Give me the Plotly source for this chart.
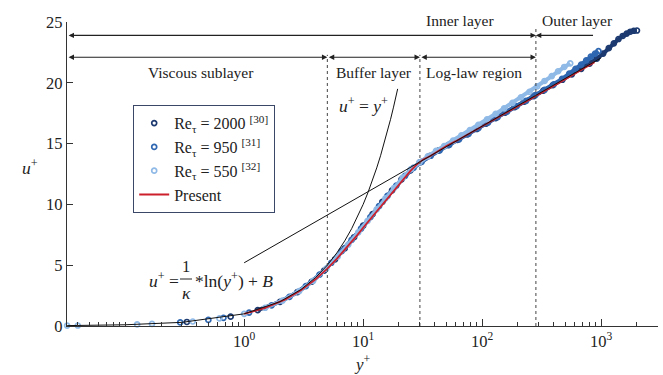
import math
import plotly.graph_objects as go

# ---------------- data ----------------
yp_2000 = [0.33, 0.77, 1.3, 2.0, 2.8, 3.7, 4.7, 5.8, 7.0, 8.4,
           10, 12, 14.5, 17.5, 21, 25, 30, 36, 43, 52,
           62, 75, 90, 108, 130, 156, 188, 226, 272, 327,
           393, 472, 567, 680, 800, 920, 1040, 1160, 1280, 1400,
           1520, 1640, 1760, 1880, 2000]
up_2000 = [0.33, 0.77, 1.3, 1.99, 2.78, 3.64, 4.55, 5.47, 6.38, 7.3,
           8.25, 9.2, 10.2, 11.15, 12.05, 12.8, 13.45, 13.98, 14.42, 14.88,
           15.3, 15.76, 16.2, 16.64, 17.1, 17.55, 18.0, 18.45, 18.9, 19.35,
           19.8, 20.25, 20.7, 21.15, 21.58, 21.98, 22.4, 22.85, 23.25, 23.6,
           23.85, 24.05, 24.2, 24.28, 24.3]

yp_950 = [0.29, 0.5, 0.67, 1.1, 1.7, 2.4, 3.3, 4.3, 5.4, 6.6,
          8.0, 9.6, 11.5, 13.6, 16, 19, 22.5, 26.5, 31, 37,
          44, 53, 64, 77, 93, 112, 135, 162, 195, 234,
          280, 335, 400, 470, 540, 610, 680, 750, 820, 890,
          950]
up_950 = [0.29, 0.5, 0.67, 1.1, 1.7, 2.39, 3.28, 4.22, 5.2, 6.15,
          7.08, 8.0, 8.95, 9.85, 10.7, 11.55, 12.35, 13.0, 13.5, 14.0,
          14.45, 14.9, 15.35, 15.8, 16.27, 16.72, 17.18, 17.62, 18.08, 18.52,
          18.98, 19.42, 19.88, 20.32, 20.75, 21.15, 21.5, 21.85, 22.15, 22.4,
          22.6]

yp_550 = [0.0325, 0.04, 0.126, 0.168, 0.37, 0.62, 1.0, 1.5, 2.1, 2.9,
          3.8, 4.9, 6.1, 7.5, 9.1, 10.9, 13, 15.4, 18.2, 21.5,
          25.3, 29.7, 35, 41, 48, 57, 67, 79, 93, 110,
          130, 153, 180, 212, 250, 290, 335, 385, 435, 490,
          550]
up_550 = [0.0325, 0.04, 0.126, 0.168, 0.37, 0.62, 1.0, 1.5, 2.09, 2.87,
          3.72, 4.72, 5.7, 6.7, 7.7, 8.65, 9.6, 10.5, 11.35, 12.2,
          12.9, 13.45, 13.95, 14.4, 14.8, 15.25, 15.68, 16.1, 16.55, 17.0,
          17.45, 17.9, 18.35, 18.8, 19.25, 19.7, 20.15, 20.55, 20.95, 21.3,
          21.6]

yp_present = [1.0, 1.5, 2.2, 3.0, 4.0, 5.0, 6.0, 7.0, 8.0, 9.0,
              10, 11.5, 13, 15, 17, 19.5, 22, 25, 28, 32,
              37, 43, 50, 60, 75, 95, 120, 150, 190, 240,
              300, 380, 480, 600, 720, 880]
up_present = [1.0, 1.49, 2.17, 2.93, 3.85, 4.72, 5.52, 6.25, 6.92, 7.52,
              8.08, 8.8, 9.45, 10.2, 10.85, 11.55, 12.15, 12.75, 13.25, 13.7,
              14.0, 14.4, 14.8, 15.2, 15.75, 16.3, 16.85, 17.4, 17.95, 18.5,
              19.05, 19.6, 20.2, 20.75, 21.2, 21.7]

# viscous sublayer relation u+ = y+
yp_visc = [0.0325, 0.1, 0.3, 1, 2, 3, 4, 5, 6, 7, 8, 9, 10, 11, 12,
           13, 14, 15, 16, 17, 18, 19.5]
up_visc = [0.0325, 0.1, 0.3, 1, 2, 3, 4, 5, 6, 7, 8, 9, 10, 11, 12,
           13, 14, 15, 16, 17, 18, 19.5]

# log law u+ = (1/kappa) ln(y+) + B  (endpoints)
yp_log = [1.0, 1000]
up_log = [5.2, 22.05]

# region boundaries (y+)
x_left = 0.0325
bounds = [5, 30, 283]
outer_end = 880

series_names = ["Re<sub>τ</sub> = 2000 <sup>[30]</sup>",
                "Re<sub>τ</sub> = 950 <sup>[31]</sup>",
                "Re<sub>τ</sub> = 550 <sup>[32]</sup>",
                "Present"]

xtick_vals = [1, 10, 100, 1000]
xtick_text = ["10<sup>0</sup>", "10<sup>1</sup>", "10<sup>2</sup>", "10<sup>3</sup>"]
ytick_vals = [0, 5, 10, 15, 20, 25]

# ---------------- layout constants ----------------
W, H = 663, 375
L, R, T, B = 67, 5, 22, 49
PW, PH = W - L - R, H - T - B
FONT = "'Liberation Serif', 'Times New Roman', Times, serif"
INK = "#222222"

DARK = "#1d3a70"
MED = "#2f67b1"
LIGHT = "#8fb9e6"
RED = "#cc1f2b"


def px(x):
    return (x - L) / PW


def py(y):
    return (H - B - y) / PH


fig = go.Figure()


def dns(x, y, color, name, rank, line_from):
    fig.add_trace(go.Scatter(x=x[line_from:], y=y[line_from:], mode="lines",
                             line=dict(color=color, width=4),
                             showlegend=False, hoverinfo="skip"))
    fig.add_trace(go.Scatter(x=x, y=y, mode="markers", name=name, legendrank=rank,
                             marker=dict(symbol="circle-open", size=5, color=color,
                                         line=dict(width=1.7, color=color)),
                             cliponaxis=False))


dns(yp_2000, up_2000, DARK, series_names[0], 1, 2)
dns(yp_950, up_950, MED, series_names[1], 2, 4)
dns(yp_550, up_550, LIGHT, series_names[2], 3, 7)

fig.add_trace(go.Scatter(x=yp_present, y=up_present, mode="lines", name=series_names[3],
                         legendrank=4, line=dict(color=RED, width=1.8)))

fig.add_trace(go.Scatter(x=yp_visc, y=up_visc, mode="lines", showlegend=False,
                         line=dict(color="#111111", width=1), cliponaxis=False))
fig.add_trace(go.Scatter(x=yp_log, y=up_log, mode="lines", showlegend=False,
                         line=dict(color="#111111", width=1)))

# dashed region boundaries
tops = [22.3, 22.3, 24.6]
for b, top in zip(bounds, tops):
    fig.add_trace(go.Scatter(x=[b, b], y=[0, top], mode="lines", showlegend=False,
                             line=dict(color="#444444", width=1, dash="3px,3px"),
                             cliponaxis=False))


def arrow(x_tail, x_head, yv, both=True):
    fig.add_annotation(x=math.log10(x_head), y=yv, ax=math.log10(x_tail), ay=yv,
                       xref="x", yref="y", axref="x", ayref="y", text="",
                       showarrow=True, arrowhead=2, arrowsize=0.9, arrowwidth=1.2,
                       startarrowhead=2, startarrowsize=0.9,
                       arrowside="end+start" if both else "end",
                       arrowcolor=INK)


y_top_arrow = 23.9
y_sub_arrow = 22.1
arrow(x_left, bounds[2], y_top_arrow)
arrow(outer_end, bounds[2], y_top_arrow, both=False)
arrow(x_left, bounds[0], y_sub_arrow)
arrow(bounds[0], bounds[1], y_sub_arrow)
arrow(bounds[1], bounds[2], y_sub_arrow)


def text(x, y, s, size=15.5, xanchor="center"):
    fig.add_annotation(x=px(x), y=py(y), xref="paper", yref="paper", text=s,
                       showarrow=False, xanchor=xanchor, yanchor="middle",
                       font=dict(family=FONT, size=size, color=INK))


text(460, 20, "Inner layer")
text(577, 20, "Outer layer")
text(201, 72, "Viscous sublayer")
text(374, 72, "Buffer layer")
text(474, 72, "Log-law region")
text(363, 105, "<i>u</i><sup>+</sup> = <i>y</i><sup>+</sup>", size=17.5)

# log-law formula with fraction
text(181, 280, "<i>u</i><sup>+</sup> =", size=17.5, xanchor="right")
text(186, 266, "1", size=16.5)
text(186, 293, "<i>κ</i>", size=17.5)
fig.add_shape(type="line", xref="paper", yref="paper", x0=px(180), x1=px(192),
              y0=py(279), y1=py(279), line=dict(color=INK, width=1))
text(193, 280, "*ln(<i>y</i><sup>+</sup>) + <i>B</i>", size=17.5, xanchor="left")

# axis titles
text(30, 167, "<i>u</i><sup>+</sup>", size=17.5)
text(362, 363, "<i>y</i><sup>+</sup>", size=17)

minor_vals = ([k / 100 for k in range(4, 10)] + [k / 10 for k in range(1, 10)] +
              list(range(2, 10)) + list(range(20, 100, 10)) + list(range(200, 1000, 100)) + [2000])

fig.update_layout(
    width=W, height=H,
    margin=dict(l=L, r=R, t=T, b=B),
    paper_bgcolor="white", plot_bgcolor="white",
    font=dict(family=FONT, size=16, color=INK),
    legend=dict(x=px(133), y=py(105), xanchor="left", yanchor="top",
                bgcolor="white", bordercolor="#3b4766", borderwidth=1.2,
                font=dict(family=FONT, size=16, color=INK),
                itemwidth=30, tracegroupgap=0),
    showlegend=True,
)

fig.update_xaxes(type="log", range=[-1.489, 3.478],
                 tickmode="array", tickvals=xtick_vals, ticktext=xtick_text,
                 ticks="inside", ticklen=7, tickwidth=1.2, tickcolor="#333333",
                 minor=dict(tickmode="array", tickvals=minor_vals, ticks="inside",
                            ticklen=4, tickwidth=1, tickcolor="#333333", showgrid=False),
                 showline=True, linecolor="#333333", linewidth=1.3,
                 showgrid=False, zeroline=False,
                 tickfont=dict(family=FONT, size=16.5, color=INK))
fig.update_yaxes(range=[0, 25], tickmode="array", tickvals=ytick_vals,
                 ticks="inside", ticklen=6, tickwidth=1.2, tickcolor="#333333",
                 showline=True, linecolor="#333333", linewidth=1.3,
                 showgrid=False, zeroline=False,
                 tickfont=dict(family=FONT, size=16.5, color=INK))

fig.write_html("out.html")
